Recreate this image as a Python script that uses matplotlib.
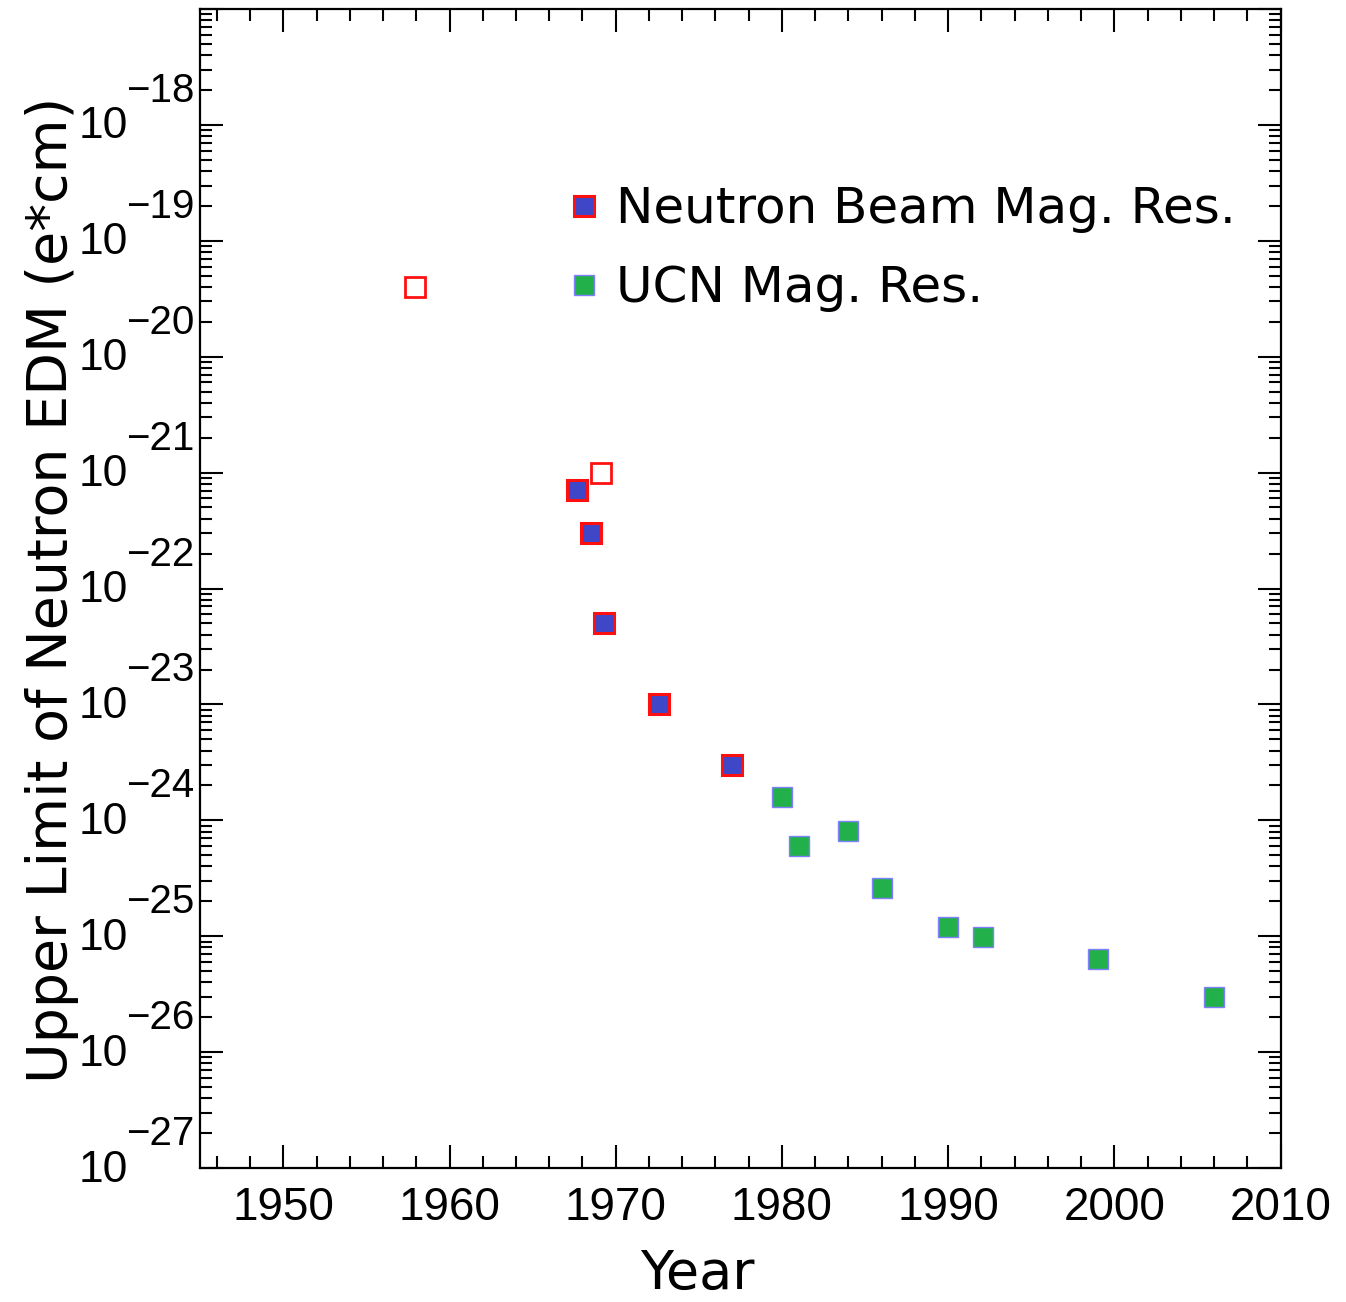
import matplotlib
matplotlib.use("Agg")
import numpy as np
import matplotlib.pyplot as plt
from matplotlib.lines import Line2D
from matplotlib.ticker import LogLocator, MultipleLocator, NullFormatter
from matplotlib.transforms import blended_transform_factory, ScaledTranslation

# Neutron EDM upper limits (e*cm) by year of publication
beam_open_year = [1957.9, 1969.1]
beam_open_limit = [4.0e-20, 1.0e-21]

beam_year = [1967.7, 1968.5, 1969.3, 1972.6, 1977.0]
beam_limit = [7.1e-22, 3.0e-22, 5.0e-23, 1.0e-23, 3.0e-24]

ucn_year = [1980.0, 1981.0, 1984.0, 1986.0, 1990.0, 1992.1, 1999.0, 2006.0]
ucn_limit = [1.6e-24, 6.0e-25, 8.1e-25, 2.6e-25, 1.2e-25, 9.8e-26, 6.4e-26, 3.0e-26]

x_ticks = [1950, 1960, 1970, 1980, 1990, 2000, 2010]
y_decades = [-27, -26, -25, -24, -23, -22, -21, -20, -19, -18]

legend_labels = ["Neutron Beam Mag. Res.", "UCN Mag. Res."]

W, H, DPI = 1346, 1302, 100
fig = plt.figure(figsize=(W / DPI, H / DPI), dpi=DPI)
ax = fig.add_axes([200.2 / W, 1 - 1168 / H, 1080.3 / W, 1159 / H])

RED = "#ff1010"
BLUE = "#3f46c8"
GREEN = "#22b04b"
LILAC = "#8080ff"

ax.plot(beam_open_year, beam_open_limit, ls="none", marker="s", ms=14.4,
        mfc="none", mec=RED, mew=2.0, zorder=3)
ax.plot(beam_year, beam_limit, ls="none", marker="s", ms=14.4,
        mfc=BLUE, mec=RED, mew=2.2, zorder=3)
ax.plot(ucn_year, ucn_limit, ls="none", marker="s", ms=15.0,
        mfc=GREEN, mec=LILAC, mew=1.0, zorder=3)

ax.set_xlim(1945, 2010)
ax.set_yscale("log")
ax.set_ylim(1e-27, 1e-17)

ax.xaxis.set_major_locator(MultipleLocator(10))
ax.xaxis.set_minor_locator(MultipleLocator(2))
ax.set_xticks(x_ticks)
ax.set_xticklabels([str(v) for v in x_ticks], family="Liberation Sans", fontsize=33)

ax.yaxis.set_major_locator(LogLocator(base=10, numticks=30))
ax.yaxis.set_minor_locator(LogLocator(base=10, subs=np.arange(2, 10), numticks=30))
ax.yaxis.set_major_formatter(NullFormatter())
ax.yaxis.set_minor_formatter(NullFormatter())

ax.tick_params(which="both", direction="in", top=True, right=True, width=1.5,
               color="black")
ax.tick_params(which="major", length=16.5)
ax.tick_params(which="minor", length=8.8)
ax.tick_params(axis="x", which="major", pad=13)
for s in ax.spines.values():
    s.set_linewidth(1.6)

# power-of-ten labels: base "10" on the tick, exponent raised above it
trans = blended_transform_factory(ax.transAxes, ax.transData)
for d in y_decades:
    ax.text(0, 10.0 ** d, "10",
            transform=trans + ScaledTranslation(-72 / DPI, -2 / DPI, fig.dpi_scale_trans),
            ha="right", va="center", family="Liberation Sans", fontsize=32)
    ax.text(0, 10.0 ** d, "\u2212" + str(-d),
            transform=trans + ScaledTranslation(-6 / DPI, 34 / DPI, fig.dpi_scale_trans),
            ha="right", va="center", family="Liberation Sans", fontsize=29)

fig.text(67 / W, 1 - 590 / H, "Upper Limit of Neutron EDM (e*cm)", rotation=90,
         rotation_mode="anchor", ha="center", va="baseline",
         family="DejaVu Sans", fontsize=40)
fig.text(697 / W, 1 - 1289 / H, "Year", ha="center", va="baseline",
         family="DejaVu Sans", fontsize=39)

handles = [
    Line2D([], [], ls="none", marker="s", ms=14.4, mfc=BLUE, mec=RED, mew=2.2),
    Line2D([], [], ls="none", marker="s", ms=15.0, mfc=GREEN, mec=LILAC, mew=1.0),
]
ax.legend(handles, legend_labels, loc="upper left", bbox_to_anchor=(0.332, 0.848),
          frameon=False, borderpad=0, borderaxespad=0, handlelength=1.0,
          handletextpad=0.14, labelspacing=0.62,
          prop={"family": "DejaVu Sans", "size": 36})

fig.savefig("out.png", dpi=DPI)
